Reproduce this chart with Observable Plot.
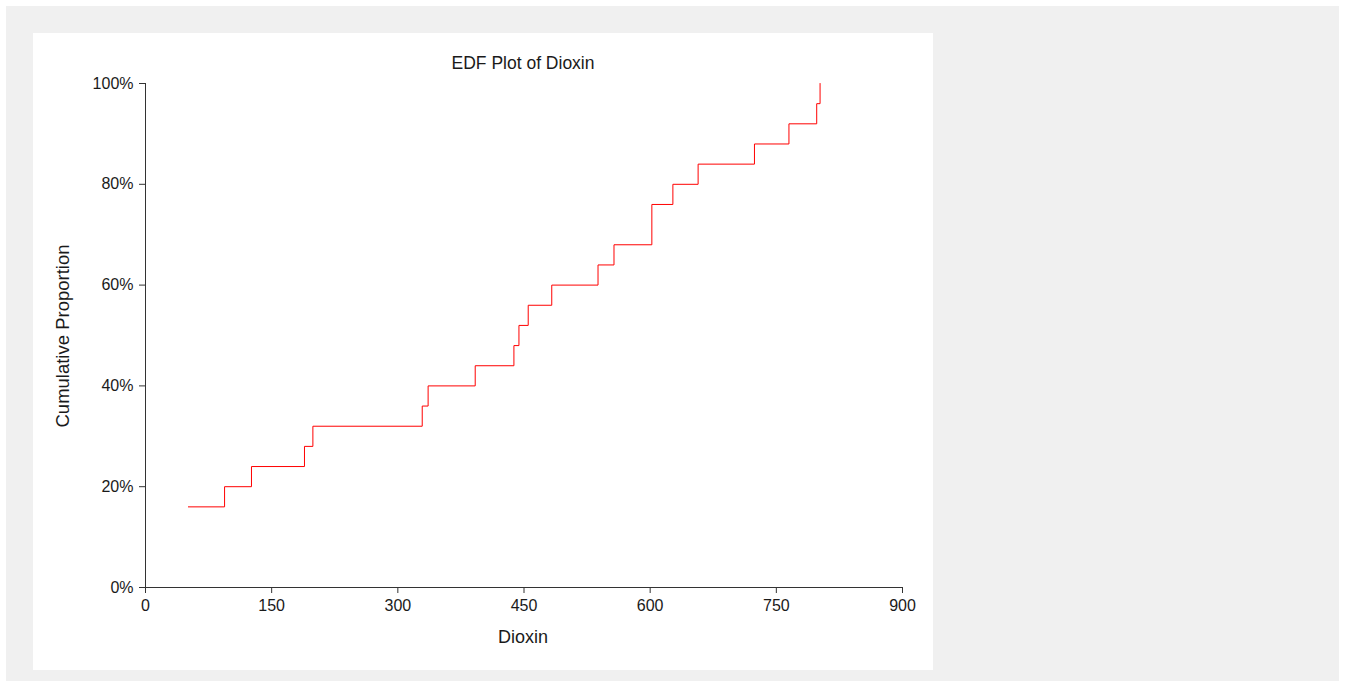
<!DOCTYPE html>
<html>
<head>
<meta charset="utf-8">
<script src="https://cdn.jsdelivr.net/npm/d3@7"></script>
<script src="https://cdn.jsdelivr.net/npm/@observablehq/plot@0.6"></script>
<style>
  html, body { margin: 0; padding: 0; background: #ffffff; width: 1345px; height: 687px; overflow: hidden; }
  body { font-family: "Liberation Sans", Arial, sans-serif; }
  #bg { position: absolute; left: 6px; top: 6px; width: 1333px; height: 675px; background: #f0f0f0; }
  #panel { position: absolute; left: 27px; top: 27px; width: 900px; height: 637px; background: #ffffff; }
  .lbl { position: absolute; transform: translate(-50%, -50%); white-space: nowrap; color: #1a1a1a; line-height: 1; font-family: "Liberation Sans", Arial, sans-serif; }
  #chart { position: absolute; left: 0; top: 0; }
</style>
</head>
<body>
<div id="bg">
  <div id="panel">
    <div id="chart"></div>
    <div class="lbl" id="title" style="left:490px; top:31px; font-size:17.5px;">EDF Plot of Dioxin</div>
    <div class="lbl" id="xlabel" style="left:490px; top:604px; font-size:18px;">Dioxin</div>
    <div class="lbl" id="ylabel" style="left:30px; top:303px; font-size:18.5px; transform: translate(-50%, -50%) rotate(-90deg);">Cumulative Proportion</div>
  </div>
</div>
<script>
// Dioxin values at each step of the EDF (sorted, ties merged)
const dioxin = [51, 94, 126, 189, 199, 329, 336, 392, 438, 444, 455, 483, 538, 557, 602, 627, 657, 724, 765, 798, 802];
// Cumulative proportion reached at each of those values
const cumProp = [0.16, 0.20, 0.24, 0.28, 0.32, 0.36, 0.40, 0.44, 0.48, 0.52, 0.56, 0.60, 0.64, 0.68, 0.76, 0.80, 0.84, 0.88, 0.92, 0.96, 1.00];
// Axis ticks
const xTicks = [0, 150, 300, 450, 600, 750, 900];
const yTicks = [0, 0.2, 0.4, 0.6, 0.8, 1.0];

const data = dioxin.map((x, i) => ({x, p: cumProp[i]}));

const plot = Plot.plot({
  width: 900,
  height: 637,
  marginLeft: 112,
  marginRight: 31,
  marginTop: 50,
  marginBottom: 83,
  style: {background: "transparent", fontFamily: "Liberation Sans, Arial, sans-serif", color: "#1a1a1a"},
  x: {domain: [0, 900]},
  y: {domain: [0, 1]},
  marks: [
    Plot.axisX({ticks: xTicks, tickSize: 6, tickPadding: 6, fontSize: 16, label: null, stroke: "#333"}),
    Plot.axisY({ticks: yTicks, tickSize: 6, tickPadding: 6, fontSize: 16, label: null, stroke: "#333",
      tickFormat: d => Math.round(d * 100) + "%"}),
    Plot.ruleX([0], {stroke: "#333", strokeWidth: 1}),
    Plot.ruleY([0], {stroke: "#333", strokeWidth: 1}),
    Plot.line(data, {x: "x", y: "p", curve: "step-after", stroke: "#ff0000", strokeWidth: 1})
  ]
});
document.getElementById("chart").appendChild(plot);
</script>
</body>
</html>
